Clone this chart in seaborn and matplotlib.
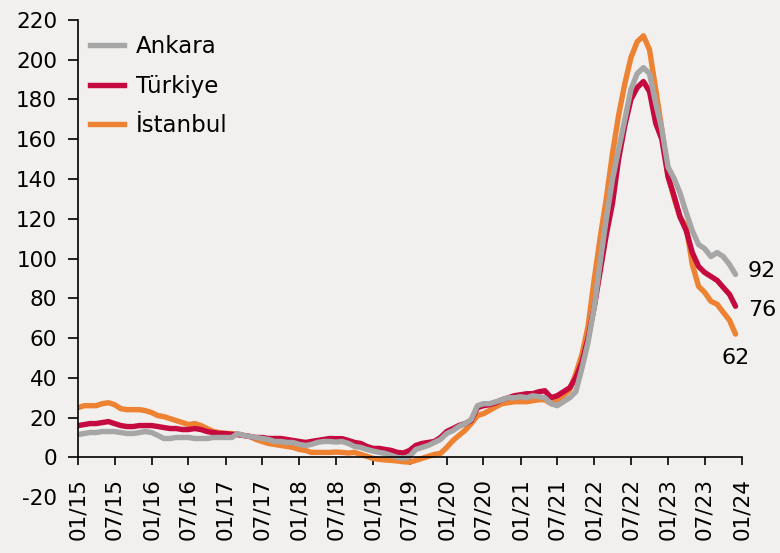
import numpy as np
import pandas as pd
import matplotlib
matplotlib.use("Agg")
import matplotlib.pyplot as plt
import matplotlib.dates as mdates
from matplotlib.lines import Line2D
import seaborn as sns

# monthly series, 01/2015 .. 12/2023
dates = pd.date_range("2015-01-01", "2023-12-01", freq="MS")

ankara = [
    11.5, 12, 12.5, 12.5, 13, 13, 13, 12.5, 12, 12, 12.5, 13,
    12.5, 11, 9.5, 9.5, 10, 10, 10, 9.5, 9.5, 9.5, 10, 10,
    10, 10, 12, 11, 10.5, 10, 9.5, 9, 8, 8, 7.5, 7.5,
    6.5, 6, 6.5, 7.5, 8, 8, 7.7, 8, 7, 5.5, 5, 4,
    3.2, 2.5, 2, 1, 0, -0.5, 0.5, 4, 5, 6, 7.5, 9,
    12, 13.5, 15.5, 17, 19, 26, 27, 27, 28, 29, 30, 30,
    30.5, 30, 31, 30.5, 30, 27, 26, 28, 30, 33, 45, 58,
    76, 100, 120, 140, 155, 170, 185, 193, 196, 193, 178, 165,
    146, 140, 133, 123, 114, 107, 105, 101, 103, 101, 97, 92,
]

turkiye = [
    16, 16.5, 17, 17, 17.5, 18, 17, 16, 15.5, 15.5, 16, 16,
    16, 15.5, 15, 14.5, 14.5, 14, 14, 14.5, 14, 13, 12.5, 12,
    12, 11.5, 11.5, 11, 10.5, 10, 10, 9.5, 9.5, 9.5, 9, 8.5,
    8, 7.5, 8, 8.5, 9, 9.5, 9.4, 9.4, 8.5, 7.5, 7, 5.5,
    4.5, 4.5, 4, 3.5, 2.5, 2.2, 3.5, 6, 7, 7.5, 8, 10,
    13, 14.5, 16, 17, 18.5, 25, 26, 26.5, 27.5, 29, 30, 31,
    31.5, 32, 32, 33, 33.5, 30, 31, 33, 35, 40, 48, 60,
    76, 95, 112, 128, 150, 167, 180, 186, 189, 184, 168, 160,
    141, 131, 121, 114, 103, 96, 93, 91, 89, 85.5, 82, 76,
]

istanbul = [
    25, 26, 26, 26, 27, 27.5, 26.5, 24.5, 24, 24, 24, 23.5,
    22.5, 21, 20.5, 19.5, 18.5, 17.5, 16.5, 17, 16, 14.5, 13, 12.5,
    12, 12, 11.5, 11, 10.5, 9, 8, 7, 6.5, 6, 5.5, 5,
    4, 3.5, 2.5, 2.5, 2.5, 2.5, 2.7, 2.5, 2.2, 2.5, 1.5, 0.5,
    -0.5, -1, -1.3, -1.5, -1.8, -2.2, -2.4, -1.5, -0.5, 0.5, 1.5, 2,
    5, 8.5, 11, 13.6, 17, 21, 22, 23.7, 25.5, 27, 27.5, 28,
    28, 28, 28.5, 29, 29, 27, 28.5, 31, 34, 42, 52, 66,
    90, 112, 130, 153, 172, 188, 201, 209, 212, 205, 185, 165,
    142, 130, 121, 116, 97, 86, 83, 78.5, 77, 73, 69, 62,
]

series_names = ["Ankara", "Türkiye", "İstanbul"]
colors = {"Ankara": "#A6A6A6", "Türkiye": "#C40A3E", "İstanbul": "#EE8233"}
end_labels = {"Ankara": "92", "Türkiye": "76", "İstanbul": "62"}

df = pd.DataFrame({
    "date": np.tile(dates, 3),
    "value": ankara + turkiye + istanbul,
    "region": np.repeat(series_names, len(dates)),
})

plt.rcParams["font.family"] = ["DejaVu Sans"]
plt.rcParams["axes.unicode_minus"] = False

bg = "#F2F0EE"
fig = plt.figure(figsize=(7.8, 5.53), dpi=100, facecolor=bg)
ax = fig.add_axes([0.1, 0.101, 0.851, 0.863], facecolor=bg)

# draw Istanbul first, Ankara on top
for name in ["İstanbul", "Türkiye", "Ankara"]:
    sns.lineplot(data=df[df["region"] == name], x="date", y="value",
                 color=colors[name], linewidth=3.9, ax=ax, legend=False,
                 solid_capstyle="round")

ax.set_xlim(pd.Timestamp("2015-01-01"), pd.Timestamp("2024-01-01"))
ax.set_ylim(-20, 220)
ax.set_yticks(np.arange(-20, 221, 20))
ax.xaxis.set_major_locator(mdates.MonthLocator(bymonth=[1, 7]))
ax.xaxis.set_major_formatter(mdates.DateFormatter("%m/%y"))
ax.set_xlabel("")
ax.set_ylabel("")

ax.spines["top"].set_visible(False)
ax.spines["right"].set_visible(False)
ax.spines["bottom"].set_position(("data", 0))
ax.spines["left"].set_bounds(0, 220)
for s in ["left", "bottom"]:
    ax.spines[s].set_linewidth(1.2)
ax.tick_params(axis="both", direction="out", width=1.2,
               labelsize=15.5, colors="black")
ax.tick_params(axis="y", length=7, pad=8)
ax.tick_params(axis="x", rotation=90, length=6, pad=9)
ax.yaxis.get_major_ticks()[0].tick1line.set_visible(False)

# end-of-series value labels
last = dates[-1]
ax.text(last + pd.Timedelta(days=60), 93.5, end_labels["Ankara"],
        fontsize=16, va="center", ha="left")
ax.text(last + pd.Timedelta(days=60), 74, end_labels["Türkiye"],
        fontsize=16, va="center", ha="left")
ax.text(last, 50, end_labels["İstanbul"],
        fontsize=16, va="center", ha="center")

handles = [Line2D([0], [0], color=colors[n], linewidth=3.9) for n in series_names]
ax.legend(handles, series_names, loc="upper left", frameon=False,
          fontsize=16.5, handlelength=1.5, handletextpad=0.5,
          labelspacing=0.72, borderpad=0, borderaxespad=0,
          bbox_to_anchor=(0.018, 0.968))

fig.savefig("out.png", dpi=100, facecolor=bg)
